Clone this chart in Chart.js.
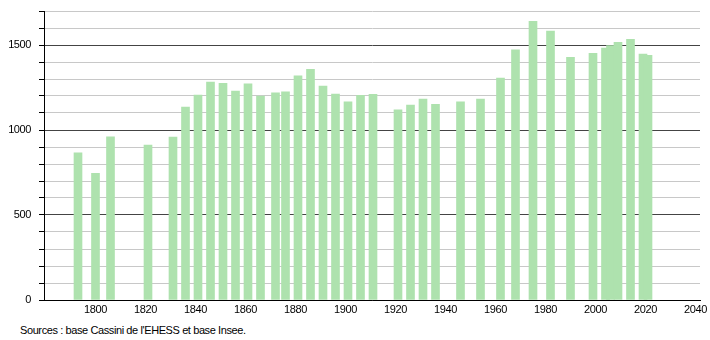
<!DOCTYPE html>
<html>
<head>
<meta charset="utf-8">
<script src="https://cdn.jsdelivr.net/npm/chart.js@4"></script>
<style>
  body { margin: 0; background: #fff; }
  .wrap { position: relative; width: 710px; height: 340px; }
  canvas { position: absolute; left: 0; top: 0; }
  .sources {
    position: absolute; left: 20px; top: 324px;
    font: 11px "Liberation Sans", Arial, sans-serif; line-height: 13px;
    letter-spacing: -0.4px; color: #000;
  }
</style>
</head>
<body>
<div class="wrap">
  <canvas id="chart" width="710" height="320"></canvas>
  <div class="sources">Sources : base Cassini de l'EHESS et base Insee.</div>
</div>
<script>
// census years and population
const years = [1793, 1800, 1806, 1821, 1831, 1836, 1841, 1846, 1851, 1856,
  1861, 1866, 1872, 1876, 1881, 1886, 1891, 1896, 1901, 1906, 1911,
  1921, 1926, 1931, 1936, 1946, 1954, 1962, 1968, 1975, 1982, 1990,
  1999, 2004, 2006, 2009, 2014, 2019, 2021];
const population = [866, 745, 960, 912, 959, 1135, 1206, 1282, 1275, 1229,
  1271, 1200, 1218, 1225, 1318, 1357, 1259, 1212, 1165, 1204, 1210,
  1118, 1147, 1182, 1151, 1165, 1182, 1306, 1471, 1639, 1582, 1427,
  1451, 1482, 1496, 1516, 1533, 1447, 1439];
const xTicks = [1800, 1820, 1840, 1860, 1880, 1900, 1920, 1940, 1960, 1980, 2000, 2020, 2040];
const yLabels = [0, 500, 1000, 1500];

const tightText = {
    id: 'tightText',
    beforeDraw(chart) {
        chart.ctx.letterSpacing = '-0.4px';
    }
};

const ctx = document.getElementById('chart').getContext('2d');
new Chart(ctx, {
    type: 'bar',
    data: {
        datasets: [{
            data: years.map((y, i) => ({ x: y, y: population[i] })),
            backgroundColor: 'rgb(174, 226, 174)',
            borderWidth: 0,
            barThickness: 8
        }]
    },
    options: {
        responsive: false,
        animation: false,
        layout: { autoPadding: false, padding: { top: 11, right: 10, left: 0, bottom: 0 } },
        plugins: { legend: { display: false }, tooltip: { enabled: false } },
        scales: {
            x: {
                type: 'linear',
                min: 1779.4,
                max: 2041.8,
                offset: false,
                grid: { display: false, offset: false, drawTicks: false },
                border: { display: true, color: '#000', width: 1 },
                afterBuildTicks: (scale) => { scale.ticks = xTicks.map(v => ({ value: v })); },
                afterFit: (scale) => { scale.height = 20; scale.paddingLeft = 0; scale.paddingRight = 0; },
                ticks: {
                    autoSkip: false,
                    maxRotation: 0,
                    padding: 3,
                    color: '#000',
                    font: { family: '"Liberation Sans", Arial, sans-serif', size: 11 },
                    callback: (v) => v
                }
            },
            y: {
                min: 0,
                max: 1700,
                afterFit: (scale) => { scale.width = 44; scale.paddingTop = 0; scale.paddingBottom = 0; },
                grid: {
                    color: (c) => c.tick.value % 500 === 0 ? '#444' : '#c8c8c8',
                    tickColor: '#000',
                    tickLength: 5
                },
                border: { display: true, color: '#000', width: 1 },
                ticks: {
                    stepSize: 100,
                    padding: 8,
                    color: '#000',
                    font: { family: '"Liberation Sans", Arial, sans-serif', size: 11 },
                    callback: (v) => yLabels.includes(v) ? v : ''
                }
            }
        }
    },
    plugins: [tightText]
});
</script>
</body>
</html>
